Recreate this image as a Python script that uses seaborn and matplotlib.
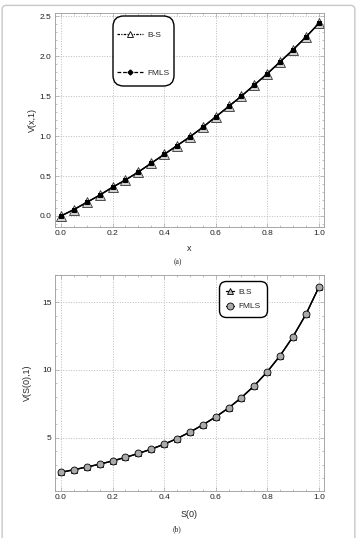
import numpy as np
import pandas as pd
import matplotlib
matplotlib.use("Agg")
import matplotlib.pyplot as plt
import seaborn as sns
from matplotlib.patches import FancyBboxPatch
from matplotlib.lines import Line2D
from matplotlib.ticker import MultipleLocator

# veri
x_vals = [0.0, 0.05, 0.1, 0.15, 0.2, 0.25, 0.3, 0.35, 0.4, 0.45, 0.5,
          0.55, 0.6, 0.65, 0.7, 0.75, 0.8, 0.85, 0.9, 0.95, 1.0]
bs_a = [0.0, 0.08, 0.17, 0.26, 0.36, 0.45, 0.55, 0.66, 0.77, 0.88, 0.99,
        1.11, 1.24, 1.37, 1.50, 1.64, 1.78, 1.93, 2.08, 2.24, 2.41]
fmls_a = [0.0, 0.08, 0.17, 0.26, 0.36, 0.45, 0.55, 0.66, 0.77, 0.88, 0.99,
          1.11, 1.24, 1.37, 1.50, 1.64, 1.78, 1.93, 2.08, 2.24, 2.41]
bs_b = [2.43, 2.62, 2.82, 3.03, 3.27, 3.53, 3.82, 4.14, 4.50, 4.92, 5.40,
        5.93, 6.52, 7.18, 7.95, 8.83, 9.85, 11.05, 12.45, 14.10, 16.10]
fmls_b = [2.43, 2.62, 2.82, 3.03, 3.27, 3.53, 3.82, 4.14, 4.50, 4.92, 5.40,
          5.93, 6.52, 7.18, 7.95, 8.83, 9.85, 11.05, 12.45, 14.10, 16.10]

sns.set_theme(style="ticks")
plt.rcParams['font.family'] = ['Liberation Sans', 'DejaVu Sans']

fig = plt.figure(figsize=(3.57, 5.38), dpi=100)
W, H = 357, 538

# figür çerçevesi
frame = FancyBboxPatch((0.006, -0.02), 0.988, 1.01, transform=fig.transFigure,
                       boxstyle="round,pad=0,rounding_size=0.012",
                       fc="none", ec="#c8c8c8", lw=1.0, mutation_aspect=0.66)
fig.patches.append(frame)

ax1 = fig.add_axes([55/W, 1 - 227/H, 269/W, 214/H])
ax2 = fig.add_axes([55/W, 1 - 491/H, 269/W, 216/H])

df_a = pd.DataFrame({"x": x_vals, "bs": bs_a, "fmls": fmls_a})
df_b = pd.DataFrame({"x": x_vals, "bs": bs_b, "fmls": fmls_b})

# (a)
sns.lineplot(data=df_a, x="x", y="bs", ax=ax1, color="black", lw=1.0,
             marker="^", markersize=6.5, markerfacecolor="#d0d0d0",
             markeredgecolor="#333333", markeredgewidth=0.6, legend=False)
sns.lineplot(data=df_a, x="x", y="fmls", ax=ax1, color="black", lw=1.0,
             marker="s", markersize=2.2, markerfacecolor="black",
             markeredgecolor="black", legend=False)

# (b)
sns.lineplot(data=df_b, x="x", y="bs", ax=ax2, color="black", lw=1.0,
             marker="^", markersize=5, markerfacecolor="#bbbbbb",
             markeredgecolor="black", markeredgewidth=0.6, legend=False)
sns.lineplot(data=df_b, x="x", y="fmls", ax=ax2, color="black", lw=1.0,
             marker="o", markersize=5, markerfacecolor="#aaaaaa",
             markeredgecolor="black", markeredgewidth=0.6, legend=False)

for ax in (ax1, ax2):
    ax.set_xlim(-0.023, 1.02)
    ax.set_xticks([0.0, 0.2, 0.4, 0.6, 0.8, 1.0])
    ax.set_xticklabels(["0.0", "0.2", "0.4", "0.6", "0.8", "1.0"])
    ax.xaxis.set_minor_locator(MultipleLocator(0.05))
    ax.grid(True, which="major", linestyle=":", color="#bbbbbb", lw=0.7)
    ax.tick_params(which="both", direction="in", top=True, right=True,
                   color="#aaaaaa", width=0.5)
    ax.tick_params(which="major", labelsize=6, length=3, pad=2.5,
                   labelcolor="#222222")
    ax.tick_params(which="minor", length=1.5)
    for s in ax.spines.values():
        s.set_color("#999999")
        s.set_linewidth(0.6)
    ax.set_facecolor("white")

ax1.set_ylim(-0.138, 2.54)
ax1.set_yticks([0.0, 0.5, 1.0, 1.5, 2.0, 2.5])
ax1.yaxis.set_minor_locator(MultipleLocator(0.1))
ax1.set_xlabel("x", fontsize=6.5, labelpad=5)
ax1.set_ylabel("V(x,1)", fontsize=6.5, labelpad=2)

ax2.set_ylim(1.05, 17.0)
ax2.set_yticks([5, 10, 15])
ax2.yaxis.set_minor_locator(MultipleLocator(1))
ax2.set_xlabel("S(0)", fontsize=6.5, labelpad=6)
ax2.set_ylabel("V(S(0),1)", fontsize=6.5, labelpad=7)

# lejant (a): çerçeveyi elle çizelim
h1 = [Line2D([], [], color="black", lw=0.9, linestyle=(0, (2, 1, 1, 1)),
             marker="^", markersize=5, markerfacecolor="white",
             markeredgecolor="black", markeredgewidth=0.6),
      Line2D([], [], color="black", lw=0.9, linestyle=(0, (3, 1.5)),
             marker="D", markersize=2.5, markerfacecolor="black",
             markeredgecolor="black")]
box1 = FancyBboxPatch((113/W, 1 - 86/H), 61/W, 70/H, transform=fig.transFigure,
                      boxstyle="round,pad=0,rounding_size=0.03",
                      mutation_aspect=0.66, fc="white", ec="black", lw=1.0,
                      zorder=4, clip_on=False)
ax1.add_patch(box1)
leg1 = ax1.legend(h1, ["B-S", "FMLS"], loc="upper left",
                  bbox_to_anchor=(117/W, 1 - 31/H),
                  bbox_transform=fig.transFigure, fontsize=6, frameon=False,
                  handlelength=3.1, handletextpad=0.5, labelspacing=3.6,
                  borderpad=0, borderaxespad=0)
leg1.set_zorder(6)

# lejant (b)
h2 = [Line2D([], [], color="black", lw=0.9, marker="^", markersize=5,
             markerfacecolor="#bbbbbb", markeredgecolor="black",
             markeredgewidth=0.6),
      Line2D([], [], color="black", lw=0.9, marker="o", markersize=5,
             markerfacecolor="#aaaaaa", markeredgecolor="black",
             markeredgewidth=0.6)]
leg2 = ax2.legend(h2, ["B.S", "FMLS"], loc="upper left",
                  bbox_to_anchor=(0.61, 0.97),
                  fontsize=6, frameon=True, fancybox=True, edgecolor="black",
                  framealpha=1, handlelength=1.0, handletextpad=0.5,
                  labelspacing=0.8, borderpad=0.8, borderaxespad=0)
leg2.get_frame().set_linewidth(1.0)
leg2.get_frame().set_boxstyle("round,pad=0,rounding_size=0.8")

# alt yazılar
fig.text(178/W, 1 - 262/H, "(a)", fontsize=5.5, family="Liberation Serif",
         ha="center", va="center")
fig.text(177/W, 1 - 529/H, "(b)", fontsize=5.5, family="Liberation Serif",
         ha="center", va="center")

fig.savefig("out.png", dpi=100)
